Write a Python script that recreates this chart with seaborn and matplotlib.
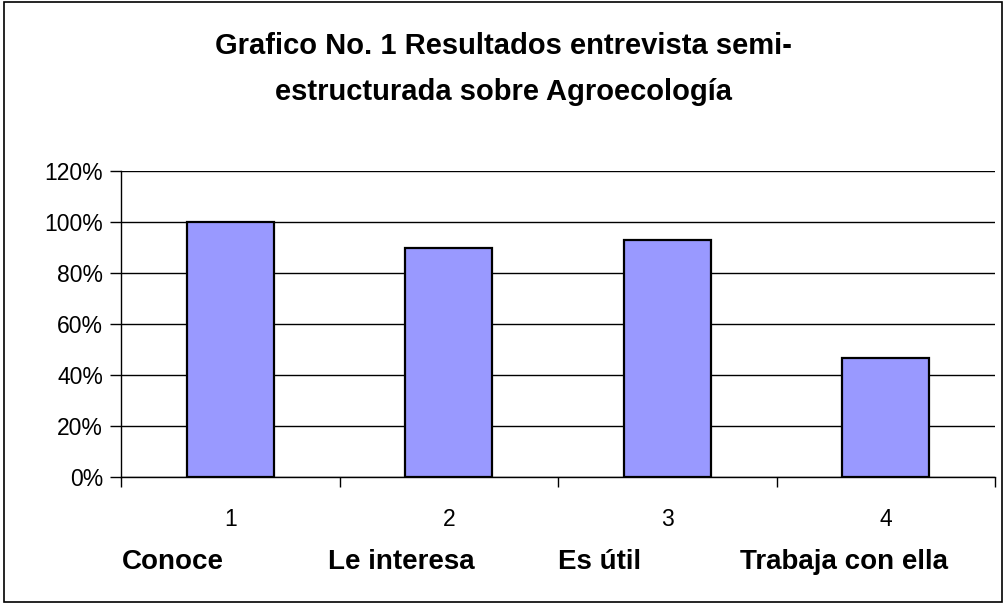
import matplotlib
matplotlib.use("Agg")
import matplotlib.pyplot as plt
import matplotlib.patches as patches
from matplotlib.ticker import PercentFormatter, FixedLocator
import seaborn as sns
import pandas as pd

# Datos del grafico
categorias = ["1", "2", "3", "4"]
porcentajes = [1.00, 0.90, 0.93, 0.465]
nombres = ["Conoce", "Le interesa", "Es útil", "Trabaja con ella"]
nombres_x = [122, 328, 558, 740]  # posicion horizontal de cada nombre (px)
titulo = "Grafico No. 1 Resultados entrevista semi-\nestructurada sobre Agroecología"

sns.set_theme(style="white")
plt.rcParams['font.family'] = ['Liberation Sans', 'DejaVu Sans']

W, H = 1007, 603
fig = plt.figure(figsize=(W / 100, H / 100), dpi=100)
ax = fig.add_axes([121 / W, 1 - 477 / H, (995 - 121) / W, (477 - 171) / H])

df = pd.DataFrame({"cat": categorias, "pct": porcentajes})
sns.barplot(data=df, x="cat", y="pct", color="#9999FF", saturation=1,
            edgecolor="black", linewidth=1.6, width=0.4, ax=ax, zorder=3)

ax.set_xlim(-0.5, 3.5)
ax.set_ylim(0, 1.2)
ax.set_yticks([0, 0.2, 0.4, 0.6, 0.8, 1.0, 1.2])
ax.yaxis.set_major_formatter(PercentFormatter(1.0, decimals=0))
ax.yaxis.grid(True, color="black", linewidth=1)
ax.set_axisbelow(True)

for s in ["top", "right"]:
    ax.spines[s].set_visible(False)
for s in ["left", "bottom"]:
    ax.spines[s].set_color("black")
    ax.spines[s].set_linewidth(1)

ax.tick_params(axis="y", which="major", direction="out", length=8, width=1,
               color="black", labelsize=16.5, pad=5, left=True)
ax.tick_params(axis="x", which="major", length=0, labelsize=16.5, pad=22)
ax.xaxis.set_minor_locator(FixedLocator([-0.5, 0.5, 1.5, 2.5, 3.5]))
ax.tick_params(axis="x", which="minor", direction="out", length=7, width=1,
               color="black", bottom=True)
ax.set_xlabel("")
ax.set_ylabel("")
for lbl in ax.get_xticklabels() + ax.get_yticklabels():
    lbl.set_color("black")

for nombre, xpx in zip(nombres, nombres_x):
    fig.text(xpx / W, 1 - 562 / H, nombre, ha="left", va="center",
             fontsize=20, fontweight="bold", color="black")

fig.text(0.5, 1 - 69 / H, titulo, ha="center", va="center", fontsize=21,
         fontweight="bold", color="black", linespacing=1.78)

fig.patches.append(patches.Rectangle((4 / W, 1 / H), 998 / W, 600 / H,
                                     transform=fig.transFigure, fill=False,
                                     edgecolor="black", linewidth=1.2))

fig.savefig("out.png", dpi=100)
